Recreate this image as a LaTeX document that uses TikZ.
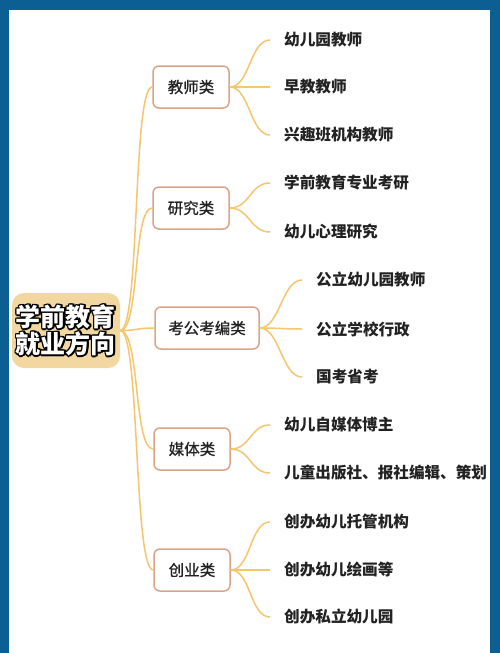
\documentclass[tikz,border=0pt]{standalone}
\usepackage{fontspec}
\setmainfont{Noto Sans CJK SC}
\newfontfamily\catfont[FakeBold=0.9]{Noto Sans CJK SC}
\definecolor{bluec}{HTML}{0B5F92}
\definecolor{linkc}{HTML}{F4C66E}
\definecolor{catc}{HTML}{D9A488}
\definecolor{rootc}{HTML}{F2D8A0}
\definecolor{txt}{HTML}{222222}
\tikzset{
  conn/.style={draw=linkc, line width=1.5pt},
  rootbox/.style={fill=rootc, rounded corners=12pt, minimum width=108pt, minimum height=75pt, inner sep=0pt},
  roottext/.style={font=\fontsize{25}{27}\selectfont\bfseries, align=center, inner sep=0pt},
  catbox/.style={draw=catc, line width=1.5pt, rounded corners=6pt, fill=white, minimum width=76pt, minimum height=42pt, font=\catfont\fontsize{15.5}{18}\selectfont, text=txt},
  leaf/.style={anchor=west, inner xsep=14pt, inner ysep=2pt, font=\fontsize{15.6}{18}\selectfont\bfseries, text=txt},
}
\begin{document}
\begin{tikzpicture}[x=1pt,y=-1pt]
\useasboundingbox (0,0) rectangle (500,653);
\fill[bluec] (0,0) rectangle (500,653);
\fill[white] (9,10) rectangle (490,653);

% root
\node[rootbox] (root) at (66,330.5) {};
\foreach \a in {0,30,...,330}
  \node[roottext, text=black] at ([shift={(\a:1.4)}]root.center) {学前教育\\就业方向};
\node[roottext, text=white] (roottxt) at (root.center) {学前教育\\就业方向};

% categories
\node[catbox] (c1) at (191,87) {教师类};
\node[catbox] (c2) at (191,208) {研究类};
\node[catbox, minimum width=104pt] (c3) at (207,328) {考公考编类};
\node[catbox] (c4) at (192,449) {媒体类};
\node[catbox] (c5) at (192,570) {创业类};

% leaves
\node[leaf] (l11) at (270,40) {幼儿园教师};
\node[leaf] (l12) at (270,87) {早教教师};
\node[leaf] (l13) at (270,135) {兴趣班机构教师};
\node[leaf] (l21) at (270,183) {学前教育专业考研};
\node[leaf] (l22) at (270,232) {幼儿心理研究};
\node[leaf] (l31) at (302,280) {公立幼儿园教师};
\node[leaf] (l32) at (302,329) {公立学校行政};
\node[leaf] (l33) at (302,377) {国考省考};
\node[leaf] (l41) at (270,425) {幼儿自媒体博主};
\node[leaf] (l42) at (270,473) {儿童出版社、报社编辑、策划};
\node[leaf] (l51) at (270,522) {创办幼儿托管机构};
\node[leaf] (l52) at (270,570) {创办幼儿绘画等};
\node[leaf] (l53) at (270,617) {创办私立幼儿园};

% root connectors
\foreach \c in {c1,c2,c3,c4,c5}
  \draw[conn] (root.east) .. controls +(20,0) and +(-20,0) .. (\c.west);

% category connectors
\foreach \c/\l in {c1/l11,c1/l12,c1/l13,c2/l21,c2/l22,c3/l31,c3/l32,c3/l33,c4/l41,c4/l42,c5/l51,c5/l52,c5/l53}
  \draw[conn] (\c.east) .. controls +(20,0) and +(-20,0) .. (\l.west);
\end{tikzpicture}
\end{document}
